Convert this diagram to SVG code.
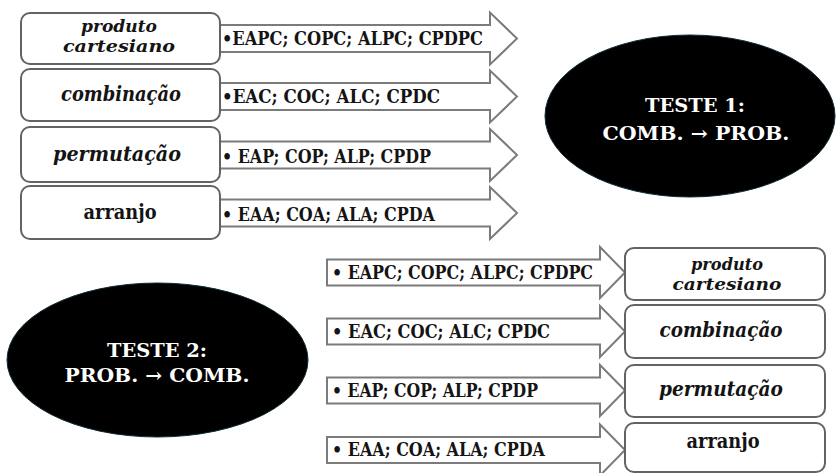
<svg xmlns="http://www.w3.org/2000/svg" width="836" height="473" viewBox="0 0 836 473">
  <style>
    .box { fill: #ffffff; stroke: #636363; stroke-width: 2; }
    .arrow { fill: #ffffff; stroke: #7b7b7b; stroke-width: 2; stroke-linejoin: miter; }
    .lbl { font-family: "DejaVu Serif", "Liberation Serif", serif; font-weight: bold; font-size: 20px; fill: #141414; text-anchor: middle; }
    .two { font-size: 17px; }
    .it { font-style: italic; }
    .codes { font-family: "DejaVu Serif", "Liberation Serif", serif; font-weight: bold; font-size: 19px; fill: #141414; }
    .oval { fill: #000000; stroke: #0e2a36; stroke-width: 1; }
    .ovaltxt { font-family: "DejaVu Serif", "Liberation Serif", serif; font-weight: bold; font-size: 19px; fill: #ffffff; text-anchor: middle; }
  </style>

  <rect width="836" height="473" fill="#ffffff"/>

  <!-- block arrows linking concepts and code lists -->
  <g id="connectors">
    <!-- test 1: arrows leaving the left boxes -->
    <g id="arrow-t1-pc">
      <path class="arrow" d="M220,25 H490 V12.5 L517,38.5 L490,64.5 V52 H220 Z"/>
      <text class="codes" x="222" y="45" textLength="261" lengthAdjust="spacingAndGlyphs">•EAPC; COPC; ALPC; CPDPC</text>
    </g>
    <g id="arrow-t1-comb">
      <path class="arrow" d="M220,83 H490 V70.5 L517,96.5 L490,122.5 V110 H220 Z"/>
      <text class="codes" x="222" y="103" textLength="218" lengthAdjust="spacingAndGlyphs">•EAC; COC; ALC; CPDC</text>
    </g>
    <g id="arrow-t1-perm">
      <path class="arrow" d="M220,141.5 H490 V129 L517,155 L490,181 V168.5 H220 Z"/>
      <text class="codes" x="222" y="163" textLength="209" lengthAdjust="spacingAndGlyphs">• EAP; COP; ALP; CPDP</text>
    </g>
    <g id="arrow-t1-arr">
      <path class="arrow" d="M220,199.5 H490 V187 L517,213 L490,239 V226.5 H220 Z"/>
      <text class="codes" x="222" y="221" textLength="213" lengthAdjust="spacingAndGlyphs">• EAA; COA; ALA; CPDA</text>
    </g>

    <!-- test 2: arrows entering the right boxes -->
    <g id="arrow-t2-pc">
      <path class="arrow" d="M327,259.5 H600 V247 L625,272.5 L600,298 V285.5 H327 Z"/>
      <text class="codes" x="332" y="279" textLength="261" lengthAdjust="spacingAndGlyphs">• EAPC; COPC; ALPC; CPDPC</text>
    </g>
    <g id="arrow-t2-comb">
      <path class="arrow" d="M327,318.5 H600 V306 L625,331.5 L600,357 V344.5 H327 Z"/>
      <text class="codes" x="332" y="338" textLength="218" lengthAdjust="spacingAndGlyphs">• EAC; COC; ALC; CPDC</text>
    </g>
    <g id="arrow-t2-perm">
      <path class="arrow" d="M327,377.5 H600 V365 L625,390.5 L600,416 V403.5 H327 Z"/>
      <text class="codes" x="332" y="397" textLength="206" lengthAdjust="spacingAndGlyphs">• EAP; COP; ALP; CPDP</text>
    </g>
    <g id="arrow-t2-arr">
      <path class="arrow" d="M327,437 H600 V424.5 L625,450 L600,475.5 V463 H327 Z"/>
      <text class="codes" x="332" y="456" textLength="213" lengthAdjust="spacingAndGlyphs">• EAA; COA; ALA; CPDA</text>
    </g>
  </g>

  <!-- test 1 concept boxes (left column) -->
  <g id="t1-produto-cartesiano">
    <rect class="box" x="21" y="13" width="199" height="51" rx="9"/>
    <text class="lbl it two" x="119" y="32" textLength="76" lengthAdjust="spacingAndGlyphs">produto</text>
    <text class="lbl it two" x="119" y="52" textLength="112" lengthAdjust="spacingAndGlyphs">cartesiano</text>
  </g>
  <g id="t1-combinacao">
    <rect class="box" x="21" y="69" width="199" height="52" rx="9"/>
    <text class="lbl it" x="121" y="101" textLength="120" lengthAdjust="spacingAndGlyphs">combinação</text>
  </g>
  <g id="t1-permutacao">
    <rect class="box" x="21" y="127" width="199" height="55" rx="9"/>
    <text class="lbl it" x="117" y="161" textLength="128" lengthAdjust="spacingAndGlyphs">permutação</text>
  </g>
  <g id="t1-arranjo">
    <rect class="box" x="21" y="186" width="199" height="53" rx="9"/>
    <text class="lbl" x="120" y="219" textLength="73" lengthAdjust="spacingAndGlyphs">arranjo</text>
  </g>

  <!-- test 2 concept boxes (right column) -->
  <g id="t2-produto-cartesiano">
    <rect class="box" x="625" y="248" width="200" height="52" rx="9"/>
    <text class="lbl it two" x="727" y="270" textLength="72" lengthAdjust="spacingAndGlyphs">produto</text>
    <text class="lbl it two" x="727" y="290" textLength="109" lengthAdjust="spacingAndGlyphs">cartesiano</text>
  </g>
  <g id="t2-combinacao">
    <rect class="box" x="625" y="305" width="200" height="53" rx="9"/>
    <text class="lbl it" x="721" y="337" textLength="123" lengthAdjust="spacingAndGlyphs">combinação</text>
  </g>
  <g id="t2-permutacao">
    <rect class="box" x="625" y="365" width="200" height="52" rx="9"/>
    <text class="lbl it" x="721" y="396" textLength="124" lengthAdjust="spacingAndGlyphs">permutação</text>
  </g>
  <g id="t2-arranjo">
    <rect class="box" x="625" y="423" width="200" height="49" rx="9"/>
    <text class="lbl" x="723" y="448" textLength="73" lengthAdjust="spacingAndGlyphs">arranjo</text>
  </g>

  <!-- test headers -->
  <g id="teste-1">
    <ellipse class="oval" cx="690" cy="116" rx="145" ry="81"/>
    <text class="ovaltxt" x="695" y="112" textLength="100" lengthAdjust="spacingAndGlyphs">TESTE 1:</text>
    <text class="ovaltxt" x="696" y="140" textLength="187" lengthAdjust="spacingAndGlyphs">COMB. → PROB.</text>
  </g>
  <g id="teste-2">
    <ellipse class="oval" cx="157.5" cy="360" rx="150.5" ry="77"/>
    <text class="ovaltxt" x="157" y="357" textLength="100" lengthAdjust="spacingAndGlyphs">TESTE 2:</text>
    <text class="ovaltxt" x="157" y="382" textLength="185" lengthAdjust="spacingAndGlyphs">PROB. → COMB.</text>
  </g>
</svg>
